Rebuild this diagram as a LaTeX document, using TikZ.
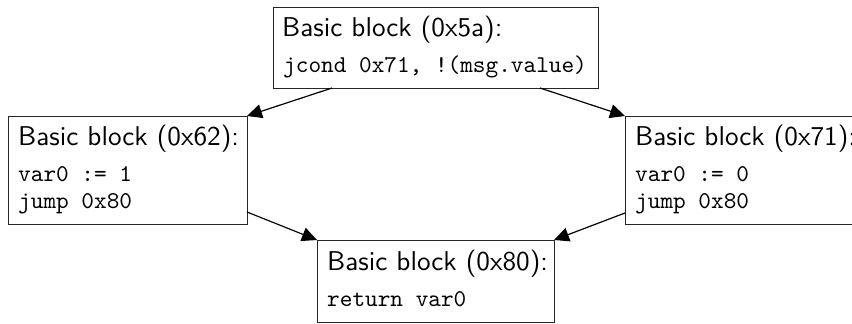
\documentclass[tikz,border=0pt]{standalone}
\usetikzlibrary{arrows.meta}
\newcommand{\blkhead}[1]{\scalebox{2.72}{\fontsize{10}{12}\sffamily #1}}
\newcommand{\blkcode}[1]{\scalebox{2.41}{\fontsize{10}{12}\ttfamily #1}}
\begin{document}
\begin{tikzpicture}[x=1pt,y=-1pt,
  block/.style={draw=black!85,line width=0.9pt,rectangle,inner sep=0pt,outer sep=0pt},
  head/.style={anchor=base west,inner sep=0pt},
  code/.style={anchor=base west,inner sep=0pt},
  edge/.style={line width=1.2pt,-{Triangle[length=15pt,width=14pt]}}]
\useasboundingbox (0,0) rectangle (852,324);

% block outlines
\node[block,minimum width=325pt,minimum height=81pt] (b5a) at (435.5,47.5) {};
\node[block,minimum width=239pt,minimum height=108pt] (b62) at (127.5,170) {};
\node[block,minimum width=239pt,minimum height=108pt] (b71) at (744.5,170) {};
\node[block,minimum width=237pt,minimum height=82pt] (b80) at (435.5,281) {};

% block contents
\node[head] (t5a) at (282,36.5) {\blkhead{Basic block (0x5a):}};
\node[code] (c5a) at (283,72.5) {\blkcode{jcond 0x71, !(msg.value)}};

\node[head] (t62) at (18,145) {\blkhead{Basic block (0x62):}};
\node[code] (c62a) at (18,181.7) {\blkcode{var0 := 1}};
\node[code] (c62b) at (18,208.3) {\blkcode{jump 0x80}};

\node[head] (t71) at (635,145) {\blkhead{Basic block (0x71):}};
\node[code] (c71a) at (635,181.7) {\blkcode{var0 := 0}};
\node[code] (c71b) at (635,208.3) {\blkcode{jump 0x80}};

\node[head] (t80) at (327,270) {\blkhead{Basic block (0x80):}};
\node[code] (c80) at (327,306.5) {\blkcode{return var0}};

% control-flow edges
\draw[edge] ([xshift=59pt]b5a.south west) -- (b62.north east);
\draw[edge] ([xshift=-58pt]b5a.south east) -- (b71.north west);
\draw[edge] ([yshift=12pt]b62.south east) -- (b80.north west);
\draw[edge] ([yshift=11pt]b71.south west) -- (b80.north east);
\end{tikzpicture}
\end{document}
